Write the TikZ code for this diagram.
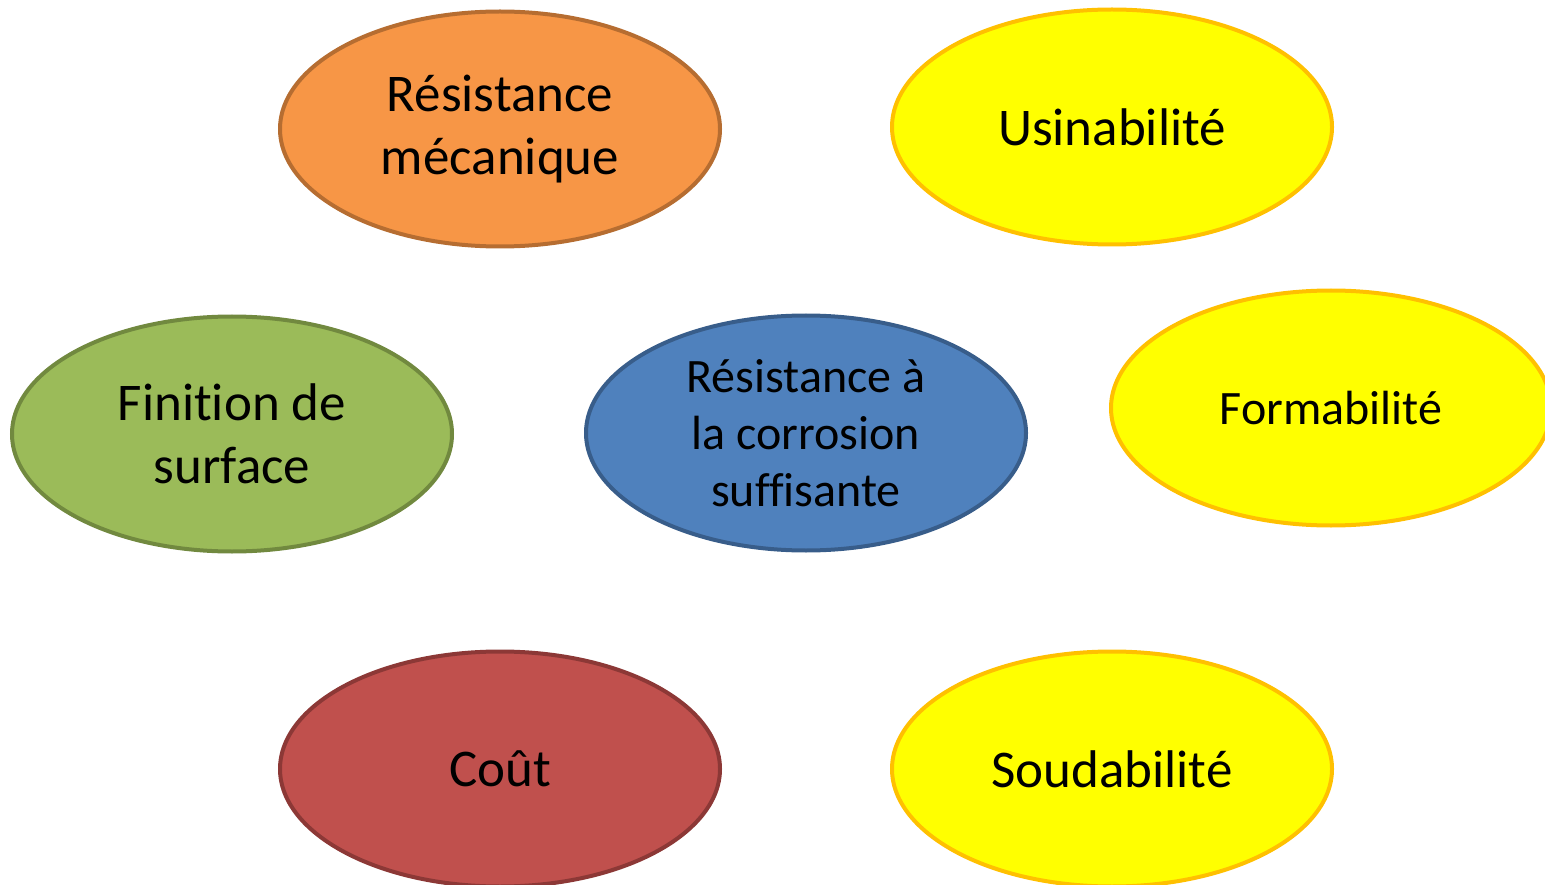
\documentclass[tikz,border=0pt]{standalone}
\usepackage{fontspec}
\setmainfont{Carlito}[Ligatures={NoCommon}]
\usetikzlibrary{shapes.geometric}
\definecolor{orfill}{HTML}{F79646}
\definecolor{ordraw}{HTML}{B66D31}
\definecolor{yefill}{HTML}{FFFF00}
\definecolor{yedraw}{HTML}{FFC000}
\definecolor{grfill}{HTML}{9BBB59}
\definecolor{grdraw}{HTML}{71893F}
\definecolor{blfill}{HTML}{4F81BD}
\definecolor{bldraw}{HTML}{385D8A}
\definecolor{rdfill}{HTML}{C0504D}
\definecolor{rddraw}{HTML}{8C3836}
\tikzset{
  oval/.style={ellipse, minimum width=440pt, minimum height=235pt, inner sep=0pt,
    line width=4pt, align=center, text=black,
    font=\fontsize{53}{63}\selectfont},
  smalltext/.style={font=\fontsize{48}{57}\selectfont},
  orange oval/.style={oval, fill=orfill, draw=ordraw},
  yellow oval/.style={oval, fill=yefill, draw=yedraw},
  green oval/.style={oval, fill=grfill, draw=grdraw},
  blue oval/.style={oval, fill=blfill, draw=bldraw},
  red oval/.style={oval, fill=rdfill, draw=rddraw}
}
\begin{document}
\begin{tikzpicture}[x=1pt,y=-1pt]
\useasboundingbox (0,0) rectangle (1545,885);
\clip (0,0) rectangle (1545,885);
\node[orange oval] (meca) at (500,129) {Résistance\\mécanique};
\node[yellow oval] (usin) at (1112,127) {Usinabilité};
\node[green oval] (fini) at (232,434) {Finition de\\surface};
\node[blue oval, smalltext] (corr) at (806,433) {Résistance à\\la corrosion\\suffisante};
\node[yellow oval, smalltext] (form) at (1331,408) {Formabilité};
\node[red oval] (cout) at (500,769) {Coût};
\node[yellow oval] (soud) at (1112,769) {Soudabilité};
\end{tikzpicture}
\end{document}
